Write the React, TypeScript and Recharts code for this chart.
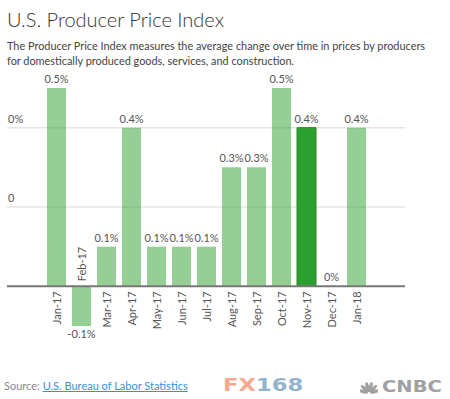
import { Bar, ComposedChart, CartesianGrid, Cell, LabelList, Line, ReferenceLine, XAxis, YAxis } from "recharts";

const months = ["Jan-17", "Feb-17", "Mar-17", "Apr-17", "May-17", "Jun-17", "Jul-17", "Aug-17", "Sep-17", "Oct-17", "Nov-17", "Dec-17", "Jan-18"];
const changes = [0.5, -0.1, 0.1, 0.4, 0.1, 0.1, 0.1, 0.3, 0.3, 0.5, 0.4, 0, 0.4];
const highlighted = "Nov-17";
const yTicks = [0.2, 0.4];
const yTickLabels = ["0", "0%"];
const yDomain: [number, number] = [-0.1, 0.5];

const rows = months.map((month, i) => ({ month, change: changes[i] }));

const W = 450;
const H = 399;
const AXIS_H = 30;
const AXIS_W = 7;
const margin = { top: 88, right: 45, bottom: 73 - AXIS_H, left: 0 };
const plotTop = margin.top;
const plotH = H - margin.top - margin.bottom - AXIS_H;
// the zero line sits above the plot bottom because of the negative month
const zeroY = plotTop + (plotH * yDomain[1]) / (yDomain[1] - yDomain[0]);

const FONT = "Lato, 'Open Sans', sans-serif";
const TEXT = "#555";

function MonthTick(props: any) {
  const { x, payload, index } = props;
  const below = (changes[index] ?? 0) >= 0;
  return (
    <text
      transform={`translate(${x + 4},${below ? zeroY + 5 : zeroY - 5}) rotate(-90)`}
      textAnchor={below ? "end" : "start"}
      fontSize={11}
      fontFamily={FONT}
      fill={TEXT}
    >
      {payload.value}
    </text>
  );
}

function LevelTick(props: any) {
  const { y, payload } = props;
  const label = yTickLabels[yTicks.indexOf(payload.value)];
  return (
    <text x={8} y={y - 5} fontSize={11} fontFamily={FONT} fill={TEXT}>
      {label}
    </text>
  );
}

// labels hang off an invisible line so the zero month still gets one
function ValueLabel(props: any) {
  const { x, y, value } = props;
  const ty = value < 0 ? y + 12 : y - 5;
  return (
    <text x={x} y={ty} textAnchor="middle" fontSize={11} fontFamily={FONT} fill={TEXT}>
      {`${value}%`}
    </text>
  );
}

function Peacock() {
  const petals = [-75, -45, -15, 15, 45, 75];
  return (
    <svg width={18} height={13} viewBox="0 0 18 13">
      {petals.map((a) => (
        <ellipse key={a} cx={9} cy={6} rx={1.8} ry={5} fill="#a0a0a0" transform={`rotate(${a} 9 12)`} />
      ))}
    </svg>
  );
}

export default function App() {
  return (
    <div style={{ position: "absolute", left: 0, top: 0, width: W, height: H, background: "#fff", fontFamily: FONT, overflow: "hidden" }}>
      <div style={{ position: "absolute", left: 7, top: 7, fontSize: 20, color: "#333", fontWeight: 300, whiteSpace: "nowrap" }}>
        U.S. Producer Price Index
      </div>
      <div style={{ position: "absolute", left: 7, top: 39, fontSize: 10.9, lineHeight: "14.5px", color: "#444", whiteSpace: "nowrap" }}>
        The Producer Price Index measures the average change over time in prices by producers
        <br />
        for domestically produced goods, services, and construction.
      </div>

      <div style={{ position: "absolute", left: 0, top: 0 }}>
        <ComposedChart width={W} height={H} data={rows} margin={margin}>
          <CartesianGrid vertical={false} stroke="#e4e4e4" strokeWidth={1.5} syncWithTicks />
          <XAxis
            dataKey="month"
            height={AXIS_H}
            axisLine={false}
            tickLine={false}
            interval={0}
            padding={{ left: 37, right: 36 }}
            tick={<MonthTick />}
          />
          <YAxis width={AXIS_W} domain={yDomain} ticks={yTicks} axisLine={false} tickLine={false} tick={<LevelTick />} />
          <Bar dataKey="change" barSize={19} isAnimationActive={false}>
            {rows.map((r) => (
              <Cell
                key={r.month}
                fill="#2ca02c"
                fillOpacity={r.month === highlighted ? 1 : 0.5}
                stroke={r.month === highlighted ? "#228b22" : "none"}
              />
            ))}
          </Bar>
          <ReferenceLine y={0} stroke="#777" strokeWidth={2} />
          <Line dataKey="change" stroke="none" dot={false} activeDot={false} isAnimationActive={false}>
            <LabelList dataKey="change" content={<ValueLabel />} />
          </Line>
        </ComposedChart>
      </div>

      <div style={{ position: "absolute", left: 4, top: 379, fontSize: 11, color: "#888", whiteSpace: "nowrap" }}>
        Source: <span style={{ color: "#3b8fd9", textDecoration: "underline" }}>U.S. Bureau of Labor Statistics</span>
      </div>
      <div style={{ position: "absolute", left: 223, top: 374, fontSize: 18, fontWeight: 700, whiteSpace: "nowrap", fontFamily: "'DejaVu Sans', sans-serif", transform: "scaleX(1.26)", transformOrigin: "left" }}>
        <span style={{ color: "#f5a98e" }}>FX</span>
        <span style={{ color: "#92b4cc" }}>168</span>
      </div>
      <div style={{ position: "absolute", left: 360, top: 378, display: "flex", alignItems: "center", gap: 4 }}>
        <Peacock />
        <span style={{ display: "inline-block", fontSize: 15, fontWeight: 700, color: "#a0a0a0", fontFamily: "'DejaVu Sans', sans-serif", transform: "scaleX(1.3)", transformOrigin: "left" }}>CNBC</span>
      </div>
    </div>
  );
}
